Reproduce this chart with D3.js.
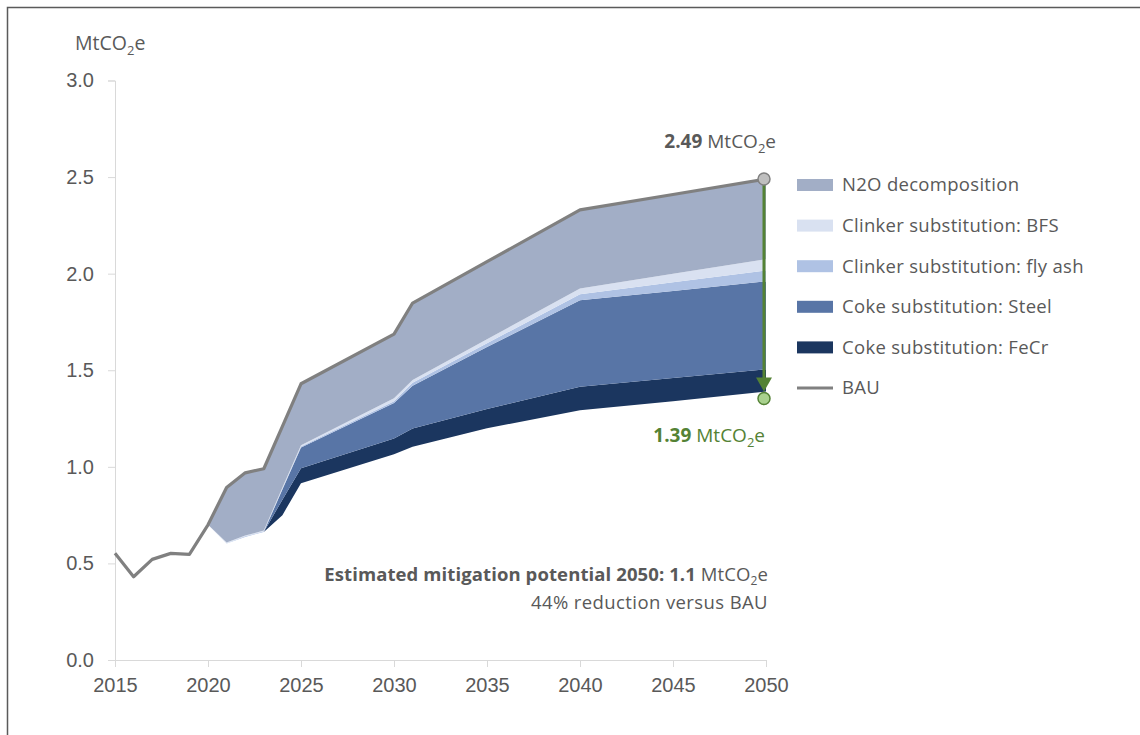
<!DOCTYPE html>
<html>
<head>
<meta charset="utf-8">
<script src="https://cdn.jsdelivr.net/npm/d3@7"></script>
<style>
  body { margin: 0; background: #fff; }
  svg { display: block; font-family: "Open Sans", sans-serif; }
  .tick text { fill: #595959; }
</style>
</head>
<body>
<svg id="chart" width="1140" height="735"></svg>
<script>
// BAU emissions (MtCO2e)
const years = [2015, 2016, 2017, 2018, 2019, 2020, 2021, 2022, 2023, 2024, 2025, 2030, 2031, 2035, 2040, 2045, 2050];
const bau = [0.553, 0.431, 0.521, 0.552, 0.547, 0.70, 0.893, 0.969, 0.99, 1.21, 1.43, 1.687, 1.848, 2.062, 2.33, 2.41, 2.49];

// mitigation wedges, from 2020 on
const mitYears = [2020, 2021, 2022, 2023, 2024, 2025, 2030, 2031, 2035, 2040, 2045, 2050];
const fecr   = [0, 0, 0, 0, 0.08, 0.078, 0.082, 0.095, 0.10, 0.121, 0.12, 0.115];
const steel  = [0, 0, 0, 0, 0.053, 0.107, 0.183, 0.221, 0.32, 0.448, 0.45, 0.455];
const flyAsh = [0, 0.002, 0.003, 0.003, 0.004, 0.005, 0.01, 0.015, 0.02, 0.031, 0.045, 0.056];
const bfs    = [0, 0.003, 0.004, 0.004, 0.006, 0.007, 0.015, 0.015, 0.02, 0.03, 0.045, 0.059];
const n2o    = [0, 0.285, 0.325, 0.32, 0.317, 0.318, 0.332, 0.398, 0.402, 0.407, 0.41, 0.415];

const yTicks = [0, 0.5, 1.0, 1.5, 2.0, 2.5, 3.0];
const xTicks = [2015, 2020, 2025, 2030, 2035, 2040, 2045, 2050];

const series = [
  { key: 'n2o', label: 'N2O decomposition', color: '#a2aec6' },
  { key: 'bfs', label: 'Clinker substitution: BFS', color: '#d9e1f1' },
  { key: 'flyAsh', label: 'Clinker substitution: fly ash', color: '#afc2e4' },
  { key: 'steel', label: 'Coke substitution: Steel', color: '#5875a6' },
  { key: 'fecr', label: 'Coke substitution: FeCr', color: '#1b365f' }
];

const textColor = '#595959';
const green = '#548235';

const svg = d3.select('#chart');

// frame
svg.append('path')
  .attr('d', 'M7.5,740 L7.5,7.5 L1145,7.5')
  .attr('fill', 'none')
  .attr('stroke', '#5a5a5a')
  .attr('stroke-width', 1.5);

const x = d3.scaleLinear().domain([2015, 2050]).range([115, 766]);
const y = d3.scaleLinear().domain([0, 3]).range([660, 80.5]);

// table for stacking
const table = mitYears.map((yr, i) => {
  const total = fecr[i] + steel[i] + flyAsh[i] + bfs[i] + n2o[i];
  const b = bau[years.indexOf(yr)];
  return { year: yr, residual: b - total, fecr: fecr[i], steel: steel[i], flyAsh: flyAsh[i], bfs: bfs[i], n2o: n2o[i] };
});

const stack = d3.stack().keys(['residual', 'fecr', 'steel', 'flyAsh', 'bfs', 'n2o']);
const stacked = stack(table);

const area = d3.area()
  .x(d => x(d.data.year))
  .y0(d => y(d[0]))
  .y1(d => y(d[1]));

// axes
const yAxis = svg.append('g')
  .attr('transform', 'translate(115,0)')
  .call(d3.axisLeft(y).tickValues(yTicks).tickFormat(d3.format('.1f')).tickSize(7).tickPadding(14));
yAxis.select('.domain').attr('stroke', '#d9d9d9');
yAxis.selectAll('.tick line').attr('stroke', '#d9d9d9');
yAxis.selectAll('.tick text').attr('font-size', 20).attr('fill', textColor);

const xAxis = svg.append('g')
  .attr('transform', 'translate(0,660)')
  .call(d3.axisBottom(x).tickValues(xTicks).tickFormat(d3.format('d')).tickSize(7).tickPadding(11));
xAxis.select('.domain').attr('stroke', '#d9d9d9');
xAxis.selectAll('.tick line').attr('stroke', '#d9d9d9');
xAxis.selectAll('.tick text').attr('font-size', 20).attr('fill', textColor);

// areas
const colorOf = {};
series.forEach(s => colorOf[s.key] = s.color);
svg.append('g').selectAll('path')
  .data(stacked.filter(s => s.key !== 'residual'))
  .join('path')
  .attr('d', area)
  .attr('fill', d => colorOf[d.key]);

// BAU line
const line = d3.line().x((d, i) => x(years[i])).y(d => y(d));
svg.append('path')
  .datum(bau)
  .attr('d', line)
  .attr('fill', 'none')
  .attr('stroke', '#808080')
  .attr('stroke-width', 3.2)
  .attr('stroke-linejoin', 'round');

// axis title
const yTitle = svg.append('text')
  .attr('x', 75).attr('y', 50)
  .attr('font-size', 19.5).attr('fill', textColor);
yTitle.append('tspan').text('MtCO');
yTitle.append('tspan').attr('dy', 5).attr('font-size', 13).text('2');
yTitle.append('tspan').attr('dy', -5).text('e');

// mitigation arrow
const last = years.length - 1;
const endBau = bau[last];
const endRes = table[table.length - 1].residual;
const ax = x(2050) - 2;
svg.append('line')
  .attr('x1', ax).attr('x2', ax)
  .attr('y1', y(endBau)).attr('y2', y(endRes) - 12)
  .attr('stroke', green).attr('stroke-width', 3);
svg.append('path')
  .attr('d', `M${ax - 8},${y(endRes) - 14} L${ax + 8},${y(endRes) - 14} L${ax},${y(endRes)} Z`)
  .attr('fill', green);
svg.append('circle')
  .attr('cx', ax).attr('cy', y(endBau)).attr('r', 6)
  .attr('fill', '#bfbfbf').attr('stroke', '#808080').attr('stroke-width', 1.5);
svg.append('circle')
  .attr('cx', ax).attr('cy', y(endRes) + 7).attr('r', 6)
  .attr('fill', '#a9d18e').attr('stroke', green).attr('stroke-width', 1.5);

function valueLabel(xp, yp, value, color) {
  const t = svg.append('text')
    .attr('x', xp).attr('y', yp)
    .attr('text-anchor', 'end')
    .attr('font-size', 19).attr('fill', color);
  t.append('tspan').attr('font-weight', 'bold').text(value + ' ');
  t.append('tspan').text('MtCO');
  t.append('tspan').attr('dy', 5).attr('font-size', 13).text('2');
  t.append('tspan').attr('dy', -5).text('e');
}
valueLabel(776, 148, d3.format('.2f')(endBau), textColor);
valueLabel(765, 442, d3.format('.2f')(endRes), green);

// mitigation note
const note = svg.append('text')
  .attr('x', 768).attr('y', 581)
  .attr('text-anchor', 'end')
  .attr('font-size', 18.5).attr('letter-spacing', 0.1).attr('fill', textColor);
note.append('tspan').attr('font-weight', 'bold').text('Estimated mitigation potential 2050: ' + d3.format('.1f')(endBau - endRes) + ' ');
note.append('tspan').text('MtCO');
note.append('tspan').attr('dy', 4).attr('font-size', 12).text('2');
note.append('tspan').attr('dy', -4).text('e');
svg.append('text')
  .attr('x', 768).attr('y', 609)
  .attr('text-anchor', 'end')
  .attr('font-size', 18.5).attr('letter-spacing', 0.4).attr('fill', textColor)
  .text(Math.round((endBau - endRes) / endBau * 100) + '% reduction versus BAU');

// legend
const legend = svg.append('g').attr('transform', 'translate(797,185)');
const rows = legend.selectAll('g')
  .data(series.concat([{ key: 'bau', label: 'BAU', color: '#808080' }]))
  .join('g')
  .attr('transform', (d, i) => `translate(0,${i * 40.6})`);
rows.filter(d => d.key !== 'bau').append('rect')
  .attr('x', 0).attr('y', -6).attr('width', 36).attr('height', 12)
  .attr('fill', d => d.color);
rows.filter(d => d.key === 'bau').append('line')
  .attr('x1', 0).attr('x2', 36).attr('y1', 0).attr('y2', 0)
  .attr('stroke', d => d.color).attr('stroke-width', 3);
rows.append('text')
  .attr('x', 45).attr('y', 0).attr('dy', '0.35em')
  .attr('font-size', 18.5).attr('letter-spacing', 0.3).attr('fill', textColor)
  .text(d => d.label);
</script>
</body>
</html>
